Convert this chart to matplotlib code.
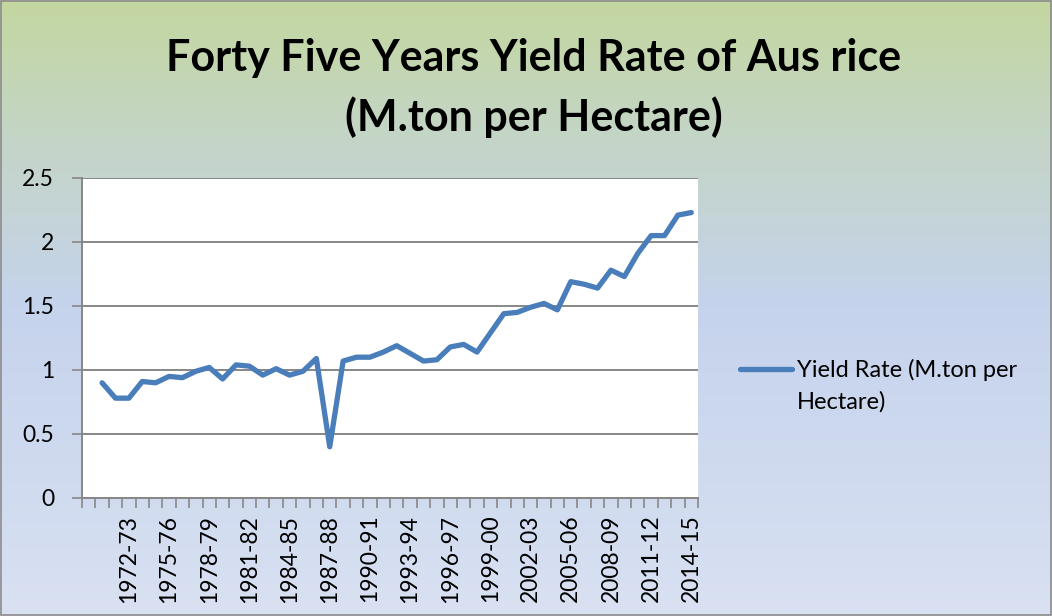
#!/usr/bin/env python3

import numpy as np
import matplotlib
matplotlib.use('Agg')
import matplotlib.pyplot as plt
from matplotlib.colors import LinearSegmentedColormap

# Yield rate of Aus rice, 1970-71 .. 2014-15 (first category is blank in the source sheet)
years = ['{}-{:02d}'.format(y, (y + 1) % 100) for y in range(1970, 2015)]
yield_rate = [0.90, 0.78, 0.78, 0.91, 0.90, 0.95, 0.94, 0.99, 1.02, 0.93,
              1.04, 1.03, 0.96, 1.01, 0.96, 0.99, 1.09, 0.40, 1.07, 1.10,
              1.10, 1.14, 1.19, 1.13, 1.07, 1.08, 1.18, 1.20, 1.14, 1.29,
              1.44, 1.45, 1.49, 1.52, 1.47, 1.69, 1.67, 1.64, 1.78, 1.73,
              1.91, 2.05, 2.05, 2.21, 2.23]
categories = [''] + years
values = [np.nan] + yield_rate

plt.rcParams['font.family'] = ['Lato', 'DejaVu Sans']

W, H = 1052, 616
fig = plt.figure(figsize=(W / 100, H / 100), dpi=100)

# background gradient (green at top fading to pale blue)
bg = fig.add_axes([0, 0, 1, 1], zorder=0)
grad_cmap = LinearSegmentedColormap.from_list(
    'bg', [(0.0, '#c3d79f'), (0.22, '#c4d5c6'), (0.5, '#c5d3ec'), (1.0, '#d9e1f2')])
bg.imshow(np.linspace(0, 1, 256).reshape(-1, 1), aspect='auto', cmap=grad_cmap,
          extent=[0, 1, 0, 1], origin='upper')
bg.set_xlim(0, 1)
bg.set_ylim(0, 1)
bg.axis('off')
bg.add_patch(plt.Rectangle((0.001, 0.001), 0.998, 0.997, fill=False,
                           edgecolor='#8c8c8c', linewidth=1.2))

ax = fig.add_axes([82 / W, 1 - 498 / H, 616 / W, 320 / H], zorder=1)
ax.set_facecolor('white')

x = np.arange(len(categories))
ax.plot(x, values, color='#4a7ebb', linewidth=3.8, solid_joinstyle='round',
        solid_capstyle='round', label='Yield Rate (M.ton per')

ax.set_xlim(-0.5, len(categories) - 0.5)
ax.set_ylim(0, 2.5)
ax.set_yticks([0, 0.5, 1, 1.5, 2, 2.5])
ax.set_yticklabels(['0', '0.5', '1', '1.5', '2', '2.5'])
ax.yaxis.grid(True, color='#878787', linewidth=1.4)
ax.set_axisbelow(True)

ax.set_xticks(x[::3])
ax.set_xticklabels(categories[::3], rotation=90)
ax.set_xticks(np.arange(len(categories) + 1) - 0.5, minor=True)
ax.tick_params(axis='x', which='major', length=0, pad=12, labelsize=16.5)
ax.tick_params(axis='x', which='minor', length=7, width=1.2, color='#878787')
ax.tick_params(axis='y', length=7, width=1.2, color='#878787', labelsize=16.5, pad=13)

for side in ['top', 'right']:
    ax.spines[side].set_visible(False)
for side in ['left', 'bottom']:
    ax.spines[side].set_color('#878787')
    ax.spines[side].set_linewidth(1.4)

fig.text(534 / W, 1 - 71 / H, 'Forty Five Years Yield Rate of Aus rice',
         ha='center', va='baseline', fontsize=31, fontweight='bold')
fig.text(534 / W, 1 - 131 / H, '(M.ton per Hectare)',
         ha='center', va='baseline', fontsize=31, fontweight='bold')

fig.legend(loc='center left', bbox_to_anchor=(740 / W, 1 - 370 / H), frameon=False,
           fontsize=17, handlelength=2.2, handletextpad=0.2, borderpad=0, borderaxespad=0)
fig.text(797 / W, 1 - 402 / H, 'Hectare)', ha='left', va='center', fontsize=17)

fig.savefig('out.png', dpi=100)
